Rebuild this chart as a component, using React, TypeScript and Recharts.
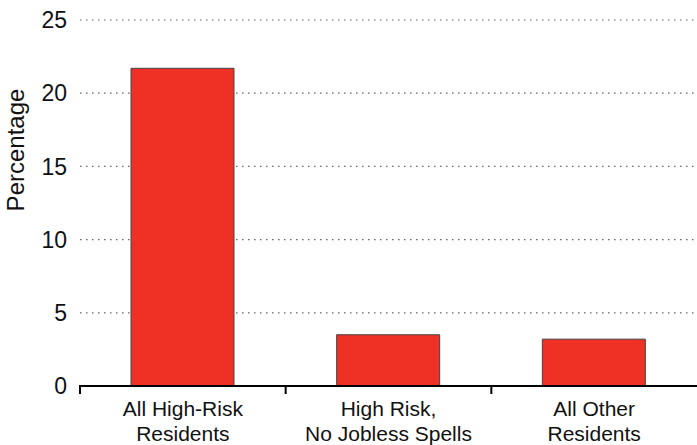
import { Bar, BarChart, CartesianGrid, XAxis, YAxis } from 'recharts';

const categories = ['All High-Risk\nResidents', 'High Risk,\nNo Jobless Spells', 'All Other\nResidents'];
const percentages = [21.7, 3.5, 3.2];
const yTicks = [0, 5, 10, 15, 20, 25];

const data = categories.map((name, i) => ({ name, value: percentages[i] }));

const FONT = '"Liberation Sans", Arial, Helvetica, sans-serif';
const WIDTH = 697;
const HEIGHT = 445;
const Y_AXIS_W = 80;
const BAND = (WIDTH - Y_AXIS_W) / categories.length;

// category label in two lines, plus the boundary tick on the left of each band
function CategoryTick({ x, y, payload }: any) {
  const lines = String(payload.value).split('\n');
  const left = x - BAND / 2;
  return (
    <g>
      <line x1={left} x2={left} y1={y - 1} y2={y + 8} stroke="#000" strokeWidth={2} />
      <text x={x} y={y} textAnchor="middle" fontSize={21} fill="#111" fontFamily={FONT}>
        {lines.map((line, i) => (
          <tspan key={i} x={x} dy={i === 0 ? 30 : 25}>
            {line}
          </tspan>
        ))}
      </text>
    </g>
  );
}

function YLabel({ viewBox }: any) {
  const x = viewBox.x + 24;
  const y = viewBox.y + 130;
  return (
    <text
      x={x}
      y={y}
      transform={`rotate(-90, ${x}, ${y})`}
      textAnchor="middle"
      fontSize={24}
      fill="#111"
      fontFamily={FONT}
    >
      Percentage
    </text>
  );
}

export default function App() {
  return (
    <div style={{ width: WIDTH, height: HEIGHT }}>
      <style>{'body { margin: 0; }'}</style>
      <BarChart
        width={WIDTH}
        height={HEIGHT}
        data={data}
        margin={{ top: 20, right: 0, bottom: 0, left: 0 }}
        style={{ fontFamily: FONT }}
      >
        <CartesianGrid vertical={false} stroke="#666" strokeDasharray="1.5 4.5" strokeWidth={1.2} />
        <XAxis
          dataKey="name"
          height={59}
          interval={0}
          axisLine={{ stroke: '#000', strokeWidth: 2 }}
          tickLine={false}
          tickSize={0}
          tickMargin={0}
          tick={<CategoryTick />}
        />
        <YAxis
          domain={[0, 25]}
          ticks={yTicks}
          width={Y_AXIS_W}
          axisLine={false}
          tickLine={false}
          tickSize={0}
          tickMargin={13}
          tick={{ fontSize: 23, fill: '#111' }}
          label={<YLabel />}
        />
        <Bar
          dataKey="value"
          barSize={103}
          fill="#EE3124"
          stroke="#444"
          strokeWidth={1}
          isAnimationActive={false}
        />
      </BarChart>
    </div>
  );
}
